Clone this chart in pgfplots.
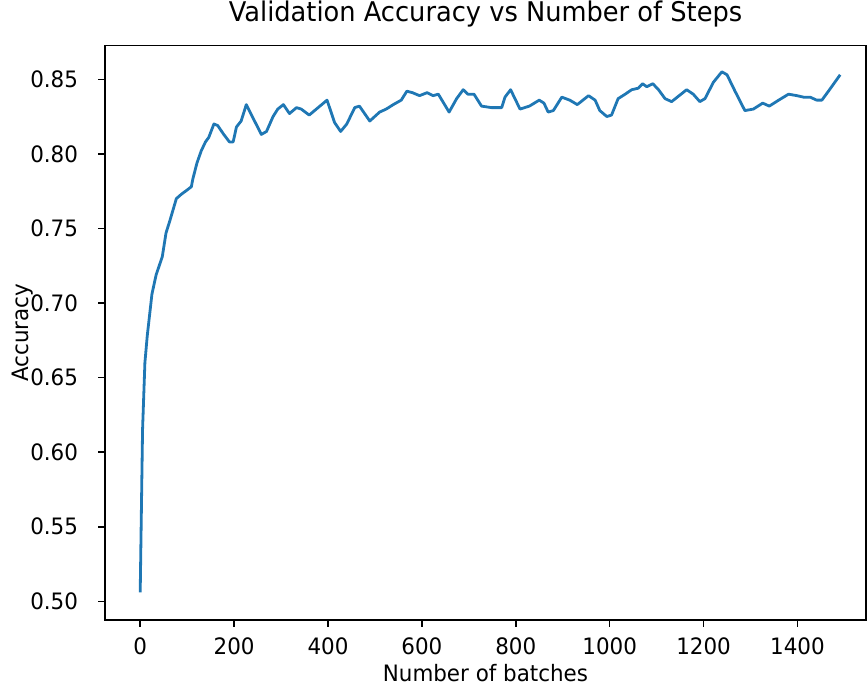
\documentclass[border=0pt]{standalone}
\usepackage{fontspec}
\setmainfont{DejaVu Sans}[FakeStretch=0.948]
\usepackage{pgfplots}
\pgfplotsset{compat=1.18}
\definecolor{mplblue}{HTML}{1F77B4}
\newcommand{\tickfont}{\fontsize{11.3}{13.5}\selectfont}
\begin{document}
\begin{tikzpicture}
\useasboundingbox (-52.5pt,-33.5pt) rectangle (381.5pt,310pt);
\begin{axis}[
    scale only axis,
    width=380.5pt, height=287.15pt,
    xmin=-75, xmax=1546,
    ymin=0.4875, ymax=0.8725,
    xtick={0,200,...,1400},
    ytick={0.50,0.55,0.60,0.65,0.70,0.75,0.80,0.85},
    xticklabel style={/pgf/number format/1000 sep={}},
    yticklabel style={/pgf/number format/fixed, /pgf/number format/fixed zerofill, /pgf/number format/precision=2},
    /pgf/number format/assume math mode=true,
    tick align=outside, tick pos=left,
    major tick length=3.3pt,
    every tick/.style={black, line width=0.75pt},
    axis line style={line width=0.75pt},
    ticklabel style={font=\tickfont},
    xticklabel style={anchor=north, inner sep=0pt, yshift=-5.5pt},
    yticklabel style={anchor=east, inner sep=0pt, xshift=-10pt},
    title={Validation Accuracy vs Number of Steps},
    title style={font=\fontsize{13.55}{16}\selectfont, at={(axis description cs:0.5,1.022)}, anchor=base},
    xlabel={Number of batches},
    xlabel style={font=\tickfont, at={(axis description cs:0.5,-0.1074)}, anchor=base},
    ylabel={Accuracy},
    ylabel style={font=\tickfont, at={(axis description cs:-0.101,0.5)}, anchor=base, rotate=0},
]
\addplot[mplblue, line width=1.4pt, line join=round] coordinates {
(0,0.506) (5,0.615) (10,0.660) (15,0.678) (20,0.692) (25,0.706)
(34,0.719) (47,0.731) (55,0.747) (63,0.755) (77,0.770) (88,0.773)
(101,0.776) (109,0.778) (112,0.783) (121,0.794) (130,0.802) (139,0.808)
(146,0.811) (157,0.820) (165,0.819) (178,0.813) (190,0.808) (198,0.808)
(205,0.818) (215,0.822) (226,0.833) (242,0.823) (258,0.813) (269,0.815)
(283,0.825) (293,0.830) (305,0.833) (318,0.827) (333,0.831) (343,0.830)
(360,0.826) (379,0.831) (398,0.836) (414,0.821) (427,0.815) (440,0.820)
(457,0.831) (467,0.832) (489,0.822) (510,0.828) (524,0.830) (539,0.833)
(556,0.836) (568,0.842) (580,0.841) (595,0.839) (611,0.841) (624,0.839)
(635,0.840) (658,0.828) (674,0.837) (688,0.843) (698,0.840) (711,0.840)
(727,0.832) (748,0.831) (770,0.831) (777,0.838) (789,0.843) (809,0.830)
(829,0.832) (850,0.836) (860,0.834) (869,0.828) (880,0.829) (898,0.838)
(915,0.836) (931,0.833) (955,0.839) (969,0.836) (979,0.829) (994,0.825)
(1004,0.826) (1018,0.837) (1033,0.840) (1047,0.843) (1061,0.844) (1070,0.847)
(1079,0.845) (1092,0.847) (1104,0.843) (1118,0.837) (1132,0.835) (1148,0.839)
(1164,0.843) (1178,0.840) (1192,0.835) (1203,0.837) (1221,0.848) (1239,0.855)
(1250,0.853) (1267,0.842) (1288,0.829) (1306,0.830) (1326,0.834) (1340,0.832)
(1360,0.836) (1381,0.840) (1399,0.839) (1413,0.838) (1427,0.838) (1441,0.836)
(1452,0.836) (1466,0.842) (1491,0.853)
};
\end{axis}
\end{tikzpicture}
\end{document}
